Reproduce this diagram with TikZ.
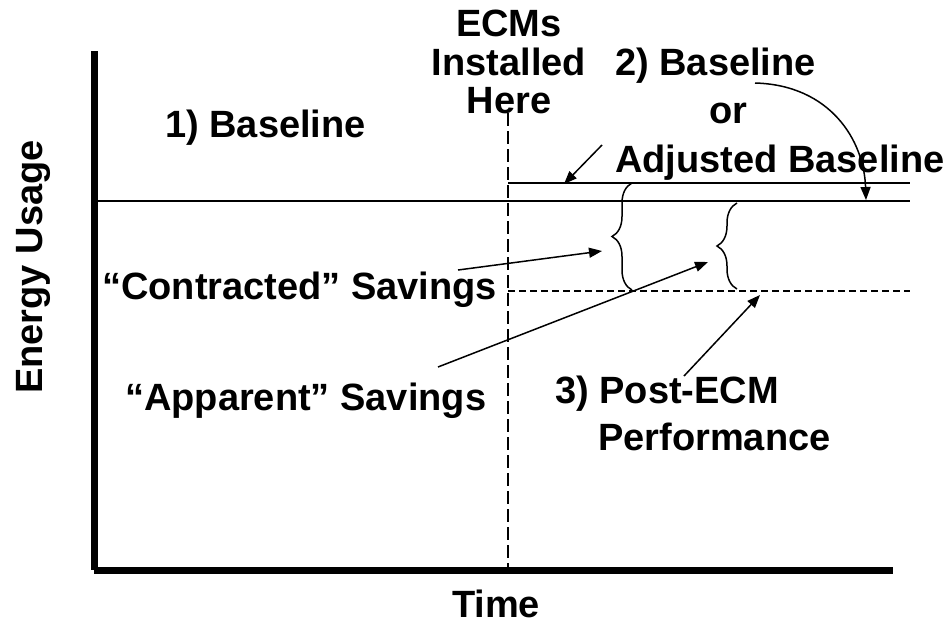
\documentclass[tikz,border=0pt]{standalone}
\usepackage{fontspec}
\setmainfont{Liberation Sans}
\usetikzlibrary{arrows.meta,decorations.pathreplacing}
\tikzset{
  lbl/.style={font=\fontsize{38}{40}\selectfont\bfseries, inner sep=0pt, anchor=base},
  lblw/.style={lbl, anchor=base west},
  axis/.style={line width=6.5pt},
  level/.style={line width=2pt},
  dashlevel/.style={line width=1.8pt, dash pattern=on 7pt off 4pt},
  dashvert/.style={line width=1.8pt, dash pattern=on 13pt off 5pt},
  ptr/.style={line width=1.5pt, -{Triangle[length=13pt,width=10pt]}},
  bracestyle/.style={line width=1.5pt, decorate, decoration={brace, amplitude=20pt}}
}
\begin{document}
\begin{tikzpicture}[x=1pt,y=-1pt]
\useasboundingbox (0,0) rectangle (950,625);
% axes
\draw[axis] (94.5,51) -- (94.5,570);
\draw[axis] (94,570.5) -- (893,570.5);
% levels
\draw[level] (98,200.5) -- (910,200.5);
\draw[level] (508,183) -- (910,183);
\draw[dashlevel] (508,291) -- (910,291);
\draw[dashvert] (508,113) -- (508,567);
% braces
\draw[bracestyle] (632,290) -- (632,183);
\draw[bracestyle] (737,289) -- (737,203);
% texts
\node[lbl] (ecm1) at (509,36) {ECMs};
\node[lbl] (ecm2) at (509,75) {Installed};
\node[lbl] (ecm3) at (509,113) {Here};
\node[lblw] (base1) at (165,137) {1) Baseline};
\node[lblw] (base2a) at (615,75) {2) Baseline};
\node[lbl] (base2b) at (728,123) {or};
\node[lblw] (base2c) at (615,172) {Adjusted Baseline};
\node[lblw] (contr) at (102,299) {“Contracted” Savings};
\node[lblw] (appar) at (125,410) {“Apparent” Savings};
\node[lblw] (post1) at (555,403) {3) Post-ECM};
\node[lblw] (post2) at (598,450) {Performance};
\node[lbl] (time) at (496,617) {Time};
\node[lbl, rotate=90] (energy) at (42,267) {Energy Usage};
% arrow ends
\coordinate (cA) at (458,270);
\coordinate (cB) at (602,251);
\coordinate (aA) at (438,367);
\coordinate (aB) at (708,262);
\coordinate (jA) at (602,145);
\coordinate (jB) at (564,184);
\coordinate (pA) at (684,376);
\coordinate (pB) at (760,295);
\coordinate (bA) at (755,83);
\coordinate (bB) at (866,200);
\draw[ptr] (cA) -- (cB);
\draw[ptr] (aA) -- (aB);
\draw[ptr] (jA) -- (jB);
\draw[ptr] (pA) -- (pB);
\draw[ptr] (bA) .. controls (830,85) and (864,140) .. (bB);
\end{tikzpicture}
\end{document}
